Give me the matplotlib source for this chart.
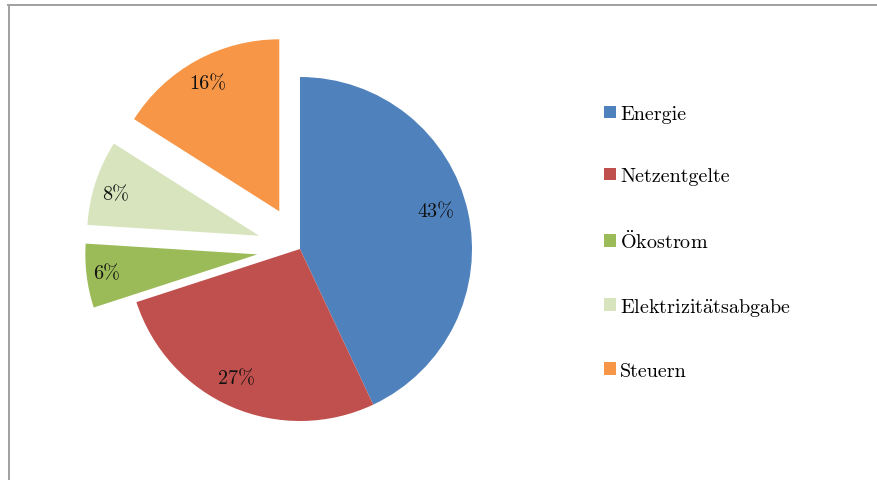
import numpy as np
import matplotlib.pyplot as plt
from matplotlib.lines import Line2D

# Anteile am Strompreis (Umlaute über Mathtext-Akzente, damit cmr10 durchgehend bleibt)
kategorien = ["Energie", "Netzentgelte", r"$\ddot{\mathrm{O}}$kostrom",
              r"Elektrizit$\ddot{\mathrm{a}}$tsabgabe", "Steuern"]
anteile = [43, 27, 6, 8, 16]
abgesetzt = [0, 0, 0.25, 0.25, 0.25]
farben = ["#4F81BD", "#C0504D", "#9BBB59", "#D7E4BD", "#F79646"]
# Lage der Prozentangaben: Abstand vom Keilmittelpunkt (in Radien), Winkelversatz (Grad)
label_abstand = [0.817, 0.84, 0.886, 0.871, 0.852]
label_drehung = [2.9, -2.9, -0.2, 2.0, 0.5]

plt.rcParams["font.family"] = ["cmr10", "DejaVu Serif"]
plt.rcParams["mathtext.fontset"] = "cm"
plt.rcParams["axes.unicode_minus"] = False

W, H = 877, 481
fig = plt.figure(figsize=(W / 100, H / 100), dpi=100)

# Achse über die ganze Fläche, Einheit = Kreisradius
cx, cy, r = 300, 250, 172
ax = fig.add_axes([0, 0, 1, 1])
ax.set_xlim(-cx / r, (W - cx) / r)
ax.set_ylim(-(H - cy) / r, cy / r)

wedges, _, pct = ax.pie(
    anteile, explode=abgesetzt, colors=farben, startangle=90, counterclock=False,
    radius=1, center=(0, 0), autopct="%d%%",
    wedgeprops=dict(linewidth=0), textprops=dict(fontsize=14.5, color="#111111"),
    frame=True,
)
ax.axis("off")

for w, t, d, dw in zip(wedges, pct, label_abstand, label_drehung):
    winkel = np.deg2rad((w.theta1 + w.theta2) / 2 + dw)
    x0, y0 = w.center
    t.set_position((x0 + d * w.r * np.cos(winkel), y0 + d * w.r * np.sin(winkel)))

leg = ax.legend(
    wedges, kategorien, loc="upper left", bbox_to_anchor=(596 / W, 1 - 98 / H),
    frameon=False, fontsize=14.5, handlelength=0.6, handleheight=0.6,
    handletextpad=0.2, labelspacing=2.19, borderaxespad=0,
)

# grauer Rahmen oben und links
rahmen = dict(color="#a0a0a0", linewidth=1.4, transform=fig.transFigure)
fig.add_artist(Line2D([8 / W, 1], [1 - 5.5 / H] * 2, **rahmen))
fig.add_artist(Line2D([8.5 / W] * 2, [0, 1 - 5.5 / H], **rahmen))

fig.savefig("out.png", dpi=100)
